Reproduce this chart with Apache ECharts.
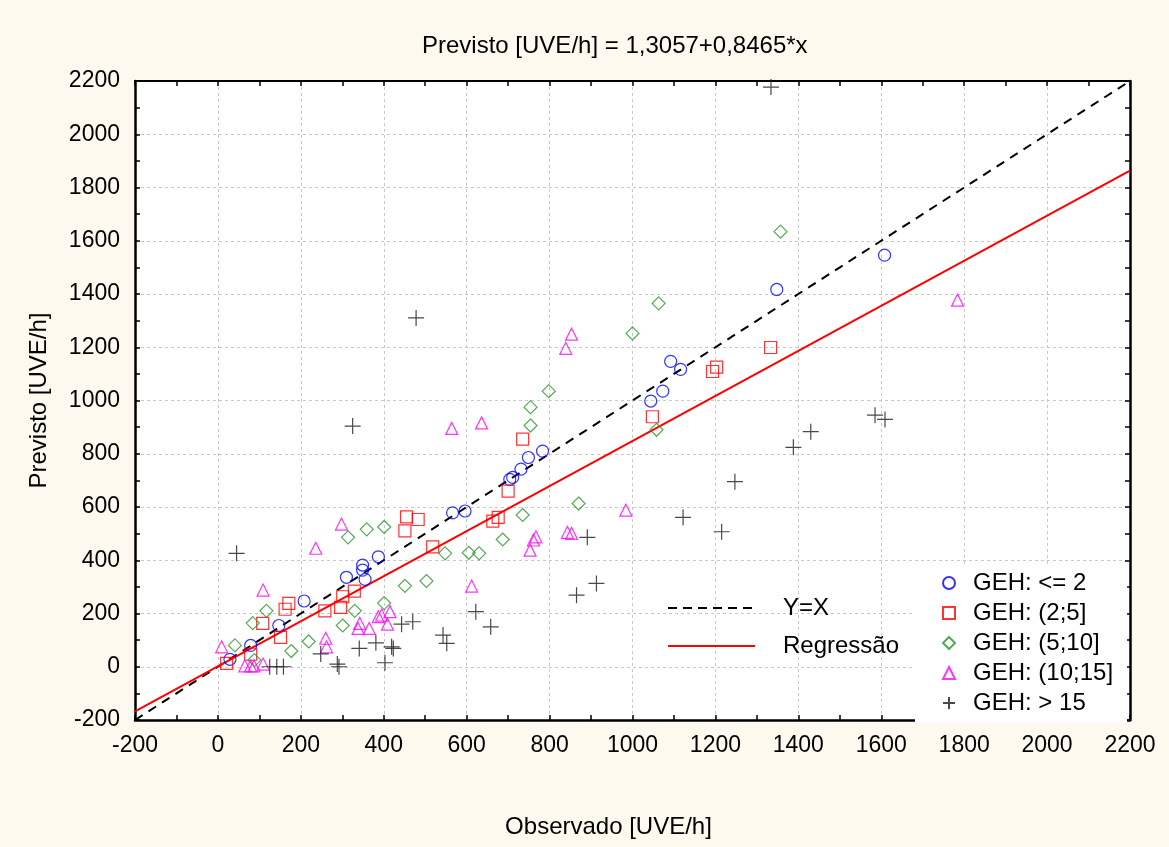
<!DOCTYPE html>
<html>
<head>
<meta charset="utf-8">
<script src="https://cdn.jsdelivr.net/npm/echarts@6/dist/echarts.min.js"></script>
<style>
html,body{margin:0;padding:0;background:#fdf9ee;}
#chart{width:1169px;height:847px;}
</style>
</head>
<body>
<div id="chart"></div>
<script>
// ---- data (Observado, Previsto) ----
const gehLe2 = [[29,28],[79,80],[147,155],[208,247],[310,336],[349,382],[349,363],[355,328],[387,413],[566,578],[596,585],[704,704],[711,711],[731,742],[749,786],[783,810],[1044,998],[1073,1035],[1092,1147],[1116,1117],[1348,1417],[1608,1546]];
const geh2to5 = [[21,13],[79,47],[108,163],[151,110],[162,216],[171,238],[258,210],[296,223],[301,263],[329,284],[451,510],[455,563],[483,553],[518,450],[663,547],[676,561],[700,660],[735,855],[1048,939],[1193,1109],[1203,1125],[1333,1199]];
const geh5to10 = [[41,80],[84,164],[88,25],[117,210],[177,59],[219,95],[301,155],[314,486],[330,210],[359,516],[401,525],[401,239],[451,304],[503,322],[548,426],[605,428],[630,426],[687,478],[735,570],[754,906],[754,975],[798,1035],[870,613],[1000,1252],[1058,890],[1063,1365],[1357,1634]];
const geh10to15 = [[9,75],[65,3],[79,3],[87,3],[109,10],[109,288],[236,445],[260,107],[262,75],[298,536],[338,144],[342,163],[365,144],[387,188],[395,194],[409,160],[415,207],[564,895],[612,303],[636,916],[753,438],[761,476],[767,488],[839,1196],[843,505],[853,501],[853,1249],[984,588],[1784,1377]];
const gehGt15 = [[45,426],[125,0],[142,0],[158,0],[248,48],[288,10],[292,0],[325,904],[341,69],[381,90],[403,15],[419,75],[423,69],[443,160],[470,169],[478,1310],[543,119],[552,88],[622,207],[658,150],[865,269],[891,486],[913,313],[1122,561],[1215,507],[1247,695],[1334,2177],[1388,824],[1430,883],[1585,945],[1609,929]];

const seriesNames = ['GEH: <= 2','GEH: (2;5]','GEH: (5;10]','GEH: (10;15]','GEH: > 15'];
const lineNames = ['Y=X','Regressão'];
const axisMin = -200, axisMax = 2200, axisStep = 200;
const regIntercept = 1.3057, regSlope = 0.8465;
const titleText = 'Previsto [UVE/h] = 1,3057+0,8465*x';
const xName = 'Observado [UVE/h]';
const yName = 'Previsto [UVE/h]';

const identityLine = [[axisMin, axisMin],[axisMax, axisMax]];
const regressionLine = [axisMin, axisMax].map(x => [x, regIntercept + regSlope * x]);

const FONT = 'Liberation Sans, Arial, sans-serif';
const hollow = c => ({color:'rgba(255,255,255,0)', borderColor:c, borderWidth:1.2});

const chart = echarts.init(document.getElementById('chart'));
const gridLine = {show:true, lineStyle:{color:'#c8c8c8', type:[3,3], width:1}};
const tickFmt = v => String(v);
const baseAxis = {
  type:'value', min:axisMin, max:axisMax, interval:axisStep,
  axisLine:{show:true, onZero:false, lineStyle:{color:'#000', width:2.5}},
  axisTick:{show:true, inside:true, length:5, lineStyle:{color:'#000', width:1.5}},
  minorTick:{show:true, splitNumber:2, length:5, lineStyle:{color:'#000', width:1.5}},
  axisLabel:{color:'#000', fontFamily:FONT, fontSize:23, margin:14, formatter:tickFmt},
  splitLine:gridLine
};
const dashIcon = 'path://M0,0h9v2h-9z M15,0h9v2h-9z M30,0h9v2h-9z M45,0h9v2h-9z M60,0h9v2h-9z M75,0h9v2h-9z M87,0h0v2h0z';
const solidIcon = 'path://M0,0h87v2h-87z';
chart.setOption({
  backgroundColor:'#fdf9ee',
  animation:false,
  title:{text:titleText, left:417, top:29, textStyle:{fontFamily:FONT, fontSize:24, fontWeight:'normal', color:'#000'}},
  grid:{left:135, right:39, top:81, bottom:127, show:true, backgroundColor:'#fff', borderWidth:0},
  xAxis:[
    Object.assign({}, baseAxis, {position:'bottom', name:xName, nameLocation:'middle', nameGap:95,
      nameTextStyle:{fontFamily:FONT, fontSize:24, color:'#000', padding:[0,48,0,0]}}),
    Object.assign({}, baseAxis, {position:'top', axisLabel:{show:false}, splitLine:{show:false}, axisLine:{show:true, onZero:false, lineStyle:{color:'#000', width:2}}})
  ],
  yAxis:[
    Object.assign({}, baseAxis, {position:'left', name:yName, nameLocation:'middle', nameGap:84,
      axisLabel:{color:'#000', fontFamily:FONT, fontSize:23, margin:15, formatter:tickFmt},
      nameTextStyle:{fontFamily:FONT, fontSize:24, color:'#000'}}),
    Object.assign({}, baseAxis, {position:'right', axisLabel:{show:false}, splitLine:{show:false}})
  ],
  legend:[
    {
      data:[{name:lineNames[0], icon:dashIcon},{name:lineNames[1], icon:solidIcon}],
      orient:'vertical', left:663, top:591,
      itemWidth:87, itemHeight:2, itemGap:14,
      textStyle:{fontFamily:FONT, fontSize:24, color:'#000', lineHeight:24, padding:[0,0,0,23]}
    },
    {
      data:seriesNames, orient:'vertical', left:915, top:564,
      backgroundColor:'#fff', padding:[7,14,8,27],
      itemWidth:12, itemHeight:12, itemGap:6,
      textStyle:{fontFamily:FONT, fontSize:24, color:'#000', lineHeight:24, padding:[0,0,0,13]}
    }
  ],
  series:[
    {name:lineNames[0], type:'line', data:identityLine, symbol:'none', z:3,
      lineStyle:{color:'#000', width:2, type:[9,7]}, itemStyle:{color:'#000'}},
    {name:lineNames[1], type:'line', data:regressionLine, symbol:'none', z:3,
      lineStyle:{color:'#ff0000', width:2}, itemStyle:{color:'#ff0000'}},
    {name:seriesNames[0], type:'scatter', data:gehLe2, symbol:'circle', symbolSize:12, itemStyle:hollow('#0000ff'), z:4},
    {name:seriesNames[1], type:'scatter', data:geh2to5, symbol:'rect', symbolSize:12, itemStyle:hollow('#ff0000'), z:4},
    {name:seriesNames[2], type:'scatter', data:geh5to10, symbol:'diamond', symbolSize:13, itemStyle:hollow('#2a962a'), z:4},
    {name:seriesNames[3], type:'scatter', data:geh10to15, symbol:'triangle', symbolSize:[12,12], itemStyle:hollow('#ff00ff'), z:4},
    {name:seriesNames[4], type:'scatter', data:gehGt15, symbol:'path://M0,8H16M8,0V16', symbolSize:16,
      itemStyle:{color:'rgba(0,0,0,0)', borderColor:'#1a1a1a', borderWidth:1.2}, z:4}
  ]
});
</script>
</body>
</html>
